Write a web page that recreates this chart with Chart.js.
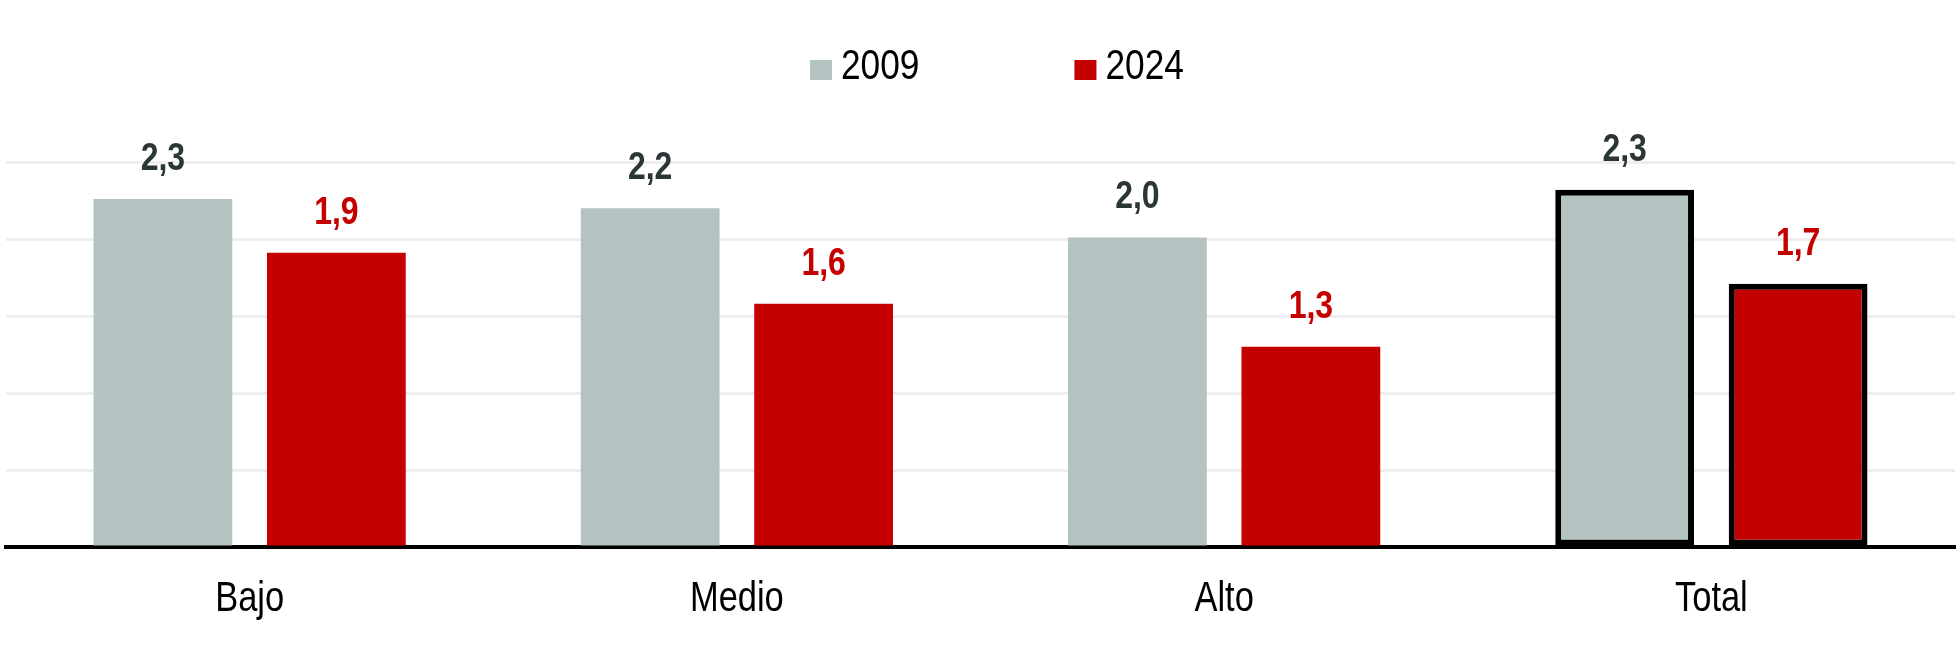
<!DOCTYPE html>
<html>
<head>
<meta charset="utf-8">
<script src="https://cdn.jsdelivr.net/npm/chart.js@4.4.1/dist/chart.umd.min.js"></script>
<style>
  html, body { margin: 0; padding: 0; background: #fff; }
  #wrap { width: 1958px; height: 654px; position: relative; }
</style>
</head>
<body>
<div id="wrap"><canvas id="chart"></canvas></div>
<script>
const categories = ['Bajo', 'Medio', 'Alto', 'Total'];
const seriesNames = ['2009', '2024'];
const values2009 = [2.26, 2.2, 2.01, 2.32];
const values2024 = [1.91, 1.58, 1.3, 1.71];
const yTicks = [0, 0.5, 1, 1.5, 2, 2.5];

const GREY = '#b3c3c1';
const RED = '#c40000';
const FONT = '"Liberation Sans", Arial, sans-serif';
const NARROW = 0.82; // no narrow face installed, squeeze the regular one

// total bars get a thick black outline
const outline = categories.map(c => c === 'Total' ? 6 : 0);

function narrowText(ctx, txt, x, y, font, color, align) {
  ctx.save();
  ctx.font = font;
  ctx.fillStyle = color;
  ctx.textAlign = align || 'center';
  ctx.textBaseline = 'alphabetic';
  ctx.translate(x, y);
  ctx.scale(NARROW, 1);
  ctx.fillText(txt, 0, 0);
  const w = ctx.measureText(txt).width * NARROW;
  ctx.restore();
  return w;
}

const valueLabels = {
  id: 'valueLabels',
  afterDatasetsDraw(chart) {
    const ctx = chart.ctx;
    chart.data.datasets.forEach((ds, i) => {
      chart.getDatasetMeta(i).data.forEach((bar, j) => {
        const txt = ds.data[j].toFixed(1).replace('.', ',');
        narrowText(ctx, txt, bar.x, bar.y - 29, 'bold 39px ' + FONT, ds.labelColor);
      });
    });
    // category names under the axis
    const xs = chart.scales.x;
    categories.forEach((c, i) => {
      narrowText(ctx, c, xs.getPixelForValue(i), xs.bottom + 64, '42px ' + FONT, '#000');
    });
  }
};

const topLegend = {
  id: 'topLegend',
  afterDraw(chart) {
    const ctx = chart.ctx;
    let x = 810;
    chart.data.datasets.forEach(ds => {
      ctx.fillStyle = ds.backgroundColor;
      ctx.fillRect(x, 60, 22, 20);
      const w = narrowText(ctx, ds.label, x + 31, 79, '43px ' + FONT, '#000', 'left');
      x += 31 + w + 155;
    });
  }
};

new Chart(document.getElementById('chart'), {
  type: 'bar',
  data: {
    labels: categories,
    datasets: [
      {
        label: seriesNames[0],
        data: values2009,
        backgroundColor: GREY,
        labelColor: '#2b3637',
        borderColor: '#000',
        borderWidth: outline,
        borderSkipped: false
      }, {
        label: seriesNames[1],
        data: values2024,
        backgroundColor: RED,
        labelColor: RED,
        borderColor: '#000',
        borderWidth: outline,
        borderSkipped: false
      }
    ]
  },
  options: {
    responsive: true,
    maintainAspectRatio: false,
    animation: false,
    categoryPercentage: 0.712,
    barPercentage: 0.8,
    layout: { padding: { left: 6, right: 3, top: 162, bottom: 107 } },
    plugins: {
      legend: { display: false },
      tooltip: { enabled: false }
    },
    scales: {
      x: {
        grid: { display: false, drawTicks: false },
        border: { display: true, color: '#000', width: 4 },
        ticks: { display: false }
      },
      y: {
        min: 0,
        max: 2.5,
        afterBuildTicks(axis) {
          axis.ticks = yTicks.map(v => ({ value: v }));
        },
        border: { display: false },
        grid: {
          drawTicks: false,
          lineWidth: 3,
          color: c => c.tick.value === 0 ? 'rgba(0,0,0,0)' : '#eeeeee'
        },
        ticks: { display: false }
      }
    }
  },
  plugins: [valueLabels, topLegend]
});
</script>
</body>
</html>
